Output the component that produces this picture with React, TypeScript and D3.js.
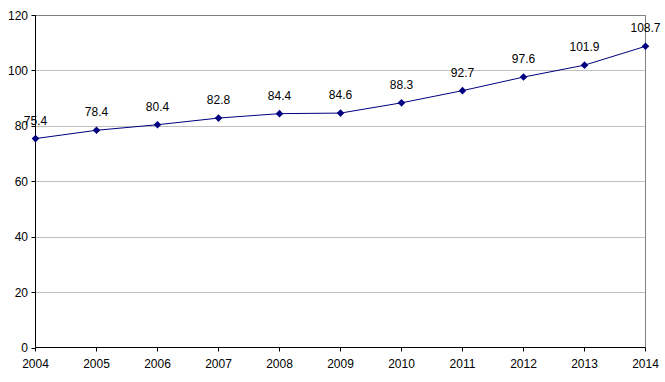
import React from "react";
import * as d3 from "d3";

const years = ["2004","2005","2006","2007","2008","2009","2010","2011","2012","2013","2014"];
const values = [75.4, 78.4, 80.4, 82.8, 84.4, 84.6, 88.3, 92.7, 97.6, 101.9, 108.7];
const yTicks = [0, 20, 40, 60, 80, 100, 120];

export default function App() {
  const W = 665, H = 382;
  const left = 35.5, right = 645.5, top = 15, bottom = 347.5;
  const x = d3.scalePoint<string>().domain(years).range([left, right]);
  const y = d3.scaleLinear().domain([0, 120]).range([bottom, top]);
  const line = d3.line<number>().x((_, i) => x(years[i])!).y(d => y(d));
  const font = "'Liberation Sans', Arial, sans-serif";
  const diamond = "M0,-3.8L3.8,0L0,3.8L-3.8,0Z";
  return (
    <svg width={W} height={H} style={{ position: "absolute", left: 0, top: 0, background: "#fff" }}>
      {yTicks.map(t => (
        <g key={t}>
          {t > 0 && <line x1={left} x2={right} y1={Math.round(y(t)) + 0.5} y2={Math.round(y(t)) + 0.5} stroke={t === 120 ? "#808080" : "#c0c0c0"} />}
          <line x1={left - 4} x2={left} y1={Math.round(y(t)) + 0.5} y2={Math.round(y(t)) + 0.5} stroke="#000" />
          <text x={28} y={y(t) + 4.5} textAnchor="end" fontFamily={font} fontSize={12} fill="#000">{t}</text>
        </g>
      ))}
      <line x1={right} x2={right} y1={top} y2={bottom} stroke="#808080" />
      <line x1={left} x2={left} y1={top} y2={bottom} stroke="#000" />
      <line x1={left} x2={right} y1={bottom} y2={bottom} stroke="#000" />
      {years.map(yr => (
        <g key={yr}>
          <line x1={x(yr)} x2={x(yr)} y1={bottom} y2={bottom + 4} stroke="#000" />
          <text x={x(yr)} y={bottom + 20} textAnchor="middle" fontFamily={font} fontSize={12} fill="#000">{yr}</text>
        </g>
      ))}
      <path d={line(values)!} fill="none" stroke="#000080" strokeWidth={1} />
      {values.map((v, i) => (
        <g key={i}>
          <path d={diamond} transform={`translate(${x(years[i])},${y(v)})`} fill="#000080" />
          <text x={x(years[i])} y={y(v) - 14} textAnchor="middle" fontFamily={font} fontSize={12} fill="#000">{v.toFixed(1)}</text>
        </g>
      ))}
    </svg>
  );
}
